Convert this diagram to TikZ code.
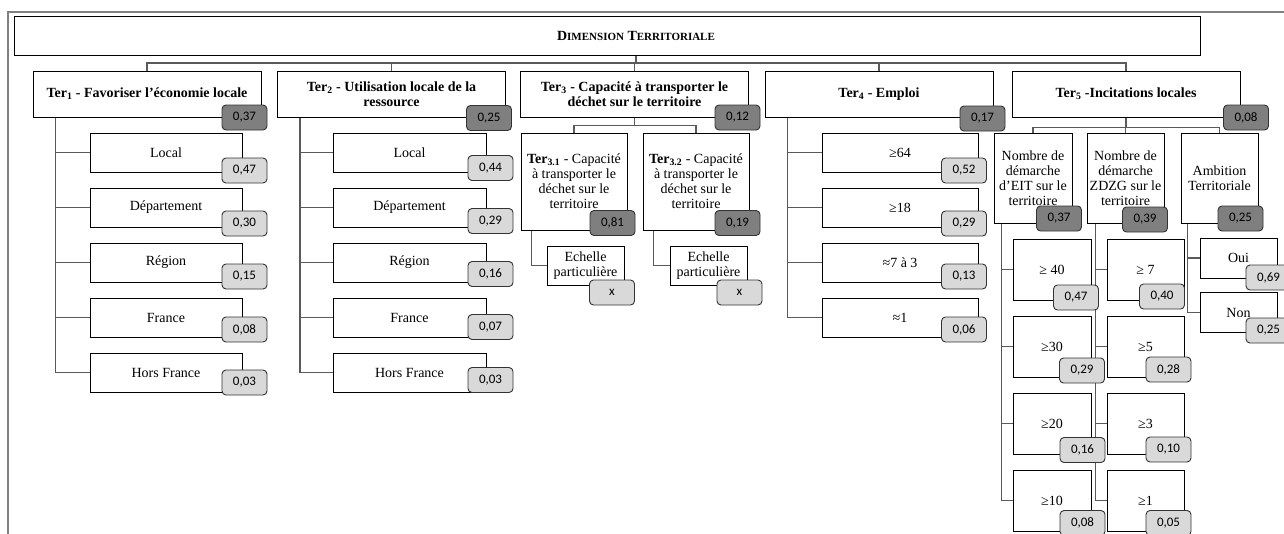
\documentclass[tikz,border=0pt]{standalone}
\usepackage{fontspec}
\setmainfont{Liberation Serif}
\newfontfamily\numfont{Carlito}
\usetikzlibrary{positioning,calc}
\pgfdeclarelayer{bg}
\pgfsetlayers{bg,main}
\definecolor{linegray}{HTML}{5A5A5A}
\definecolor{framegray}{HTML}{808080}
\definecolor{wdarkfill}{HTML}{7F7F7F}
\definecolor{wlightfill}{HTML}{D9D9D9}
\newcommand{\fsc}[2]{#1{\fontsize{11}{12}\selectfont #2}}

\begin{document}
\begin{tikzpicture}[x=1pt,y=-1pt,
    box/.style={draw=black,line width=0.9pt,fill=white,inner sep=1pt,align=center,
                font=\fontsize{14}{15}\selectfont},
    hdr/.style={box,minimum width=228pt,minimum height=46pt,
                font=\fontsize{14}{15}\selectfont\bfseries},
    leaf/.style={box,minimum height=39pt},
    wbox/.style={draw=black!80,line width=0.9pt,rounded corners=4pt,
                 minimum width=45pt,minimum height=25pt,inner sep=0pt,
                 font=\numfont\fontsize{13}{14}\selectfont},
    wdark/.style={wbox,fill=wdarkfill},
    wlight/.style={wbox,fill=wlightfill},
    link/.style={draw=linegray,line width=1.2pt}]
  \useasboundingbox (0,0) rectangle (1284,533);
  \clip (0,0) rectangle (1284,533);
  % cadre
  \draw[framegray,line width=2pt] (8,545) -- (8,12) -- (1295,12);
  % titre
  \node[box,minimum width=1186pt,minimum height=39pt] (title) at (607,35.5) {};
  \node[font=\fontsize{14}{15}\selectfont] (titletxt) at (636,35.5)
    {\textbf{\fsc{D}{IMENSION} \fsc{T}{ERRITORIALE}}};
  \coordinate (bus) at (636,63);

  % criteres
  \node[hdr] (t1) at (147,94) {Ter\textsubscript{1} - Favoriser l’économie locale};
  \node[hdr] (t2) at (391.5,94) {Ter\textsubscript{2} - Utilisation locale de la\\ressource};
  \node[hdr] (t3) at (634.5,94) {Ter\textsubscript{3} - Capacité à transporter le\\déchet sur le territoire};
  \node[hdr] (t4) at (879,94) {Ter\textsubscript{4} - Emploi};
  \node[hdr] (t5) at (1126,94) {Ter\textsubscript{5} -Incitations locales};
  \node[wdark] (w1) at (244.5,117.5) {0,37};
  \node[wdark] (w2) at (489,118) {0,25};
  \node[wdark] (w3) at (737.5,117.5) {0,12};
  \node[wdark] (w4) at (982.5,118.5) {0,17};
  \node[wdark] (w5) at (1246,117.5) {0,08};

  % Ter1
  \foreach \lab/\w [count=\i from 0] in {Local/{0,47},Département/{0,30},Région/{0,15},
      France/{0,08},Hors France/{0,03}} {
    \node[leaf,minimum width=152pt] (a\i) at (166,152.5+55*\i) {\lab};
    \node[wlight] (wa\i) at (244.5,170.5+53*\i) {\w};
  }
  % Ter2
  \foreach \lab/\w [count=\i from 0] in {Local/{0,44},Département/{0,29},Région/{0,16},
      France/{0,07},Hors France/{0,03}} {
    \node[leaf,minimum width=153pt] (b\i) at (409.5,152.5+55*\i) {\lab};
    \node[wlight] (wb\i) at (490.5,168+53*\i) {\w};
  }
  % Ter3
  \node[box,minimum width=106pt,minimum height=97pt] (t31) at (574,181.5)
    {\textbf{Ter\textsubscript{3.1}} - Capacité\\à transporter le\\déchet sur le\\territoire};
  \node[box,minimum width=106pt,minimum height=97pt] (t32) at (696,181.5)
    {\textbf{Ter\textsubscript{3.2}} - Capacité\\à transporter le\\déchet sur le\\territoire};
  \node[wdark] (w31) at (612.5,223) {0,81};
  \node[wdark] (w32) at (737.5,223) {0,19};
  \node[leaf,minimum width=77pt] (e31) at (585.5,265.5) {Echelle\\particulière};
  \node[leaf,minimum width=77pt] (e32) at (708.5,265.5) {Echelle\\particulière};
  \node[wlight] (we31) at (612,292.5) {x};
  \node[wlight] (we32) at (739.5,292.5) {x};
  % Ter4
  \foreach \lab/\w [count=\i from 0] in {≥64/{0,52},≥18/{0,29},≈7 à 3/{0,13},≈1/{0,06}} {
    \node[leaf,minimum width=156pt] (d\i) at (900,152.5+55*\i) {\lab};
    \node[wlight] (wd\i) at (964,170.5+53*\i) {\w};
  }
  % Ter5
  \node[box,minimum width=78pt,minimum height=90pt] (n51) at (1033,178)
    {Nombre de\\démarche\\d’EIT sur le\\territoire};
  \node[box,minimum width=77pt,minimum height=90pt] (n52) at (1125.5,178)
    {Nombre de\\démarche\\ZDZG sur le\\territoire};
  \node[box,minimum width=77pt,minimum height=90pt] (n53) at (1219.5,178)
    {Ambition\\Territoriale};
  \node[wdark] (wn51) at (1059,218.5) {0,37};
  \node[wdark] (wn52) at (1145,219.5) {0,39};
  \node[wdark] (wn53) at (1240.5,218.5) {0,25};
  \foreach \lab/\w/\wx/\wy [count=\i from 0] in {{≥ 40}/{0,47}/1076/297.5,
      ≥30/{0,29}/1082/370.5,≥20/{0,16}/1082.5/450,≥10/{0,08}/1082.5/523} {
    \node[leaf,minimum width=78pt,minimum height=61pt] (f\i) at (1052,269.5+77*\i) {\lab};
    \node[wlight] (wf\i) at (\wx,\wy) {\w};
  }
  \foreach \lab/\w/\wx/\wy [count=\i from 0] in {{≥ 7}/{0,40}/1162/296.5,
      ≥5/{0,28}/1168.5/369.5,≥3/{0,10}/1168.5/449.5,≥1/{0,05}/1168.5/523} {
    \node[leaf,minimum width=77pt,minimum height=61pt] (g\i) at (1145.5,269.5+77*\i) {\lab};
    \node[wlight] (wg\i) at (\wx,\wy) {\w};
  }
  \node[leaf,minimum width=77pt,minimum height=40pt] (oui) at (1238.5,258) {Oui};
  \node[leaf,minimum width=77pt,minimum height=40pt] (non) at (1238.5,312.5) {Non};
  \node[wlight] (woui) at (1268.5,277.5) {0,69};
  \node[wlight] (wnon) at (1268.5,330.5) {0,25};

  % liens
  \begin{pgfonlayer}{bg}
    \draw[link] (title.south -| bus) -- (bus);
    \draw[link] (t1.north) |- (bus) -| (t5.north);
    \foreach \k in {2,3,4} \draw[link] (t\k.north) -- (t\k.north |- bus);
    \coordinate (ka) at ([xshift=23pt]t1.south west);
    \coordinate (kb) at ([xshift=23pt]t2.south west);
    \coordinate (kd) at ([xshift=23pt]t4.south west);
    \draw[link] (ka) |- (a4.west);
    \draw[link] (kb) |- (b4.west);
    \draw[link] (kd) |- (d3.west);
    \foreach \i in {0,...,3} {
      \draw[link] (a\i.west) -- (ka |- a\i.west);
      \draw[link] (b\i.west) -- (kb |- b\i.west);
      \draw[link] (d\i.west) -- (kd |- d\i.west);
    }
    \draw[link] (t3.south) -- ++(0,8) coordinate (j3);
    \draw[link] (t31.north) |- (j3) -| (t32.north);
    \draw[link] ([xshift=11pt]t31.south west) |- (e31.west);
    \draw[link] ([xshift=11pt]t32.south west) |- (e32.west);
    \draw[link] (t5.south) -- ++(0,10) coordinate (j5);
    \draw[link] (n51.north) |- (j5) -| (n53.north);
    \draw[link] (n52.north) -- (n52.north |- j5);
    \coordinate (kf) at ([xshift=8pt]n51.south west);
    \coordinate (kg) at ([xshift=9pt]n52.south west);
    \coordinate (kh) at ([xshift=7pt]n53.south west);
    \draw[link] (kf) |- (f3.west);
    \draw[link] (kg) |- (g3.west);
    \draw[link] (kh) |- (non.west);
    \draw[link] (oui.west) -- (kh |- oui.west);
    \foreach \i in {0,1,2} {
      \draw[link] (f\i.west) -- (kf |- f\i.west);
      \draw[link] (g\i.west) -- (kg |- g\i.west);
    }
  \end{pgfonlayer}
\end{tikzpicture}
\end{document}
